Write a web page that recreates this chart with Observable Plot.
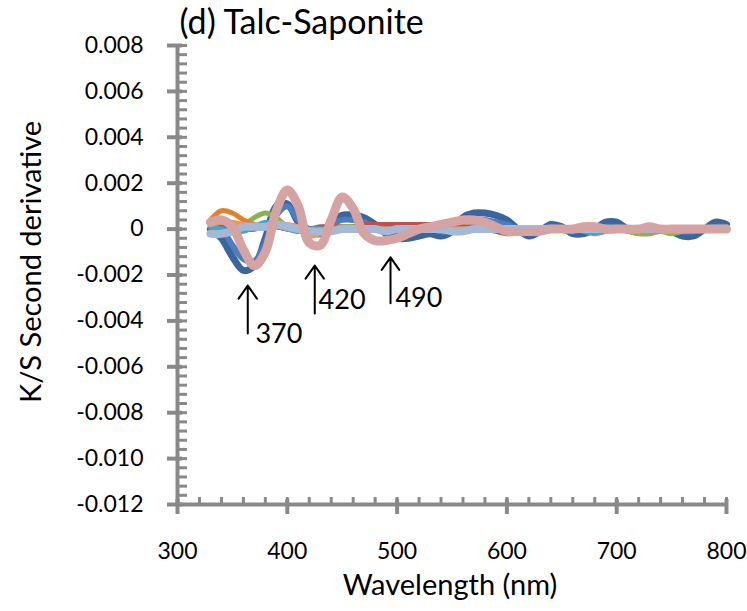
<!DOCTYPE html>
<html><head><meta charset="utf-8">
<script src="https://cdn.jsdelivr.net/npm/d3@7"></script>
<script src="https://cdn.jsdelivr.net/npm/@observablehq/plot@0.6"></script>
<style>body{margin:0;background:#fff} svg{display:block}</style>
</head><body><div id="chart"></div>
<script>
const wavelengths = [330,340,350,360,370,380,390,400,410,420,430,440,450,460,470,480,490,500,510,520,530,540,550,560,570,580,590,600,610,620,630,640,650,660,670,680,690,700,710,720,730,740,750,760,770,780,790,800];

const blueDark = [0.0000,-0.0004,-0.0012,-0.0018,-0.0016,-0.0004,0.0010,0.0011,0.0003,-0.0001,-0.0002,0.0002,0.0006,0.0006,0.0005,0.0002,-0.0002,-0.0004,-0.0004,-0.0003,-0.0002,-0.0003,-0.0001,0.0005,0.0007,0.0007,0.0006,0.0004,0.0000,-0.0003,-0.0001,0.0002,0.0001,-0.0002,-0.0002,0.0000,0.0003,0.0003,0.0000,-0.0001,0.0000,0.0000,-0.0001,-0.0003,-0.0003,0.0000,0.0003,0.0002];
const blueMid = [0.0002,0.0000,-0.0007,-0.0013,-0.0014,-0.0006,0.0006,0.0010,0.0004,0.0000,0.0000,0.0002,0.0004,0.0004,0.0003,0.0001,0.0000,-0.0001,-0.0001,0.0000,0.0000,-0.0001,0.0000,0.0003,0.0004,0.0004,0.0003,0.0002,0.0000,-0.0001,0.0000,0.0001,0.0000,-0.0001,0.0000,0.0000,0.0001,0.0001,0.0000,0.0000,0.0000,0.0000,0.0000,-0.0001,-0.0001,0.0000,0.0001,0.0001];
const red = [0.0001,0.0002,0.0001,0.0000,0.0000,0.0001,0.0001,0.0000,0.0000,0.0000,0.0001,0.0001,0.0001,0.0001,0.0002,0.0002,0.0002,0.0002,0.0002,0.0002,0.0002,0.0002,0.0002,0.0001,0.0001,0.0000,-0.0001,-0.0002,-0.0001,0.0000,0.0000,0.0000,0.0000,0.0000,0.0000,0.0000,0.0000,0.0000,0.0000,0.0000,0.0000,0.0000,0.0000,0.0000,0.0000,0.0000,0.0000,0.0000];
const green = [0.0002,0.0003,0.0002,0.0002,0.0005,0.0007,0.0005,0.0001,-0.0001,0.0000,0.0000,0.0000,0.0001,0.0001,0.0000,0.0000,0.0000,0.0000,0.0000,0.0000,0.0000,0.0000,0.0000,0.0000,0.0000,0.0000,0.0000,0.0000,0.0000,0.0000,0.0000,0.0000,0.0000,0.0000,0.0000,0.0000,0.0000,0.0000,-0.0001,-0.0002,-0.0002,-0.0001,-0.0002,-0.0001,0.0000,0.0000,0.0000,0.0000];
const purple = [0.0000,0.0001,0.0000,0.0000,0.0000,0.0001,0.0001,0.0000,0.0000,0.0000,0.0000,0.0000,0.0000,0.0000,0.0000,0.0000,0.0000,0.0000,0.0000,0.0000,0.0000,0.0000,0.0000,0.0000,0.0000,0.0000,0.0000,0.0000,0.0000,0.0000,0.0000,0.0000,0.0000,0.0000,0.0000,0.0000,0.0000,0.0000,0.0000,0.0000,0.0000,0.0000,0.0000,0.0000,0.0000,0.0000,0.0000,0.0000];
const aqua = [0.0001,0.0000,-0.0001,-0.0001,0.0001,0.0003,0.0002,0.0000,-0.0001,0.0000,0.0000,0.0000,0.0000,0.0000,0.0000,0.0000,0.0000,0.0000,0.0000,0.0000,0.0000,-0.0001,-0.0001,0.0000,0.0000,0.0000,0.0000,0.0000,-0.0001,-0.0001,0.0000,0.0000,0.0000,0.0000,-0.0001,-0.0002,-0.0001,0.0000,0.0000,0.0000,0.0000,0.0000,0.0000,0.0000,0.0000,0.0000,0.0000,0.0000];
const orangeDark = [0.0004,0.0008,0.0007,0.0004,0.0002,0.0001,0.0001,0.0001,0.0000,-0.0002,-0.0001,0.0000,0.0000,0.0000,0.0000,0.0000,0.0000,0.0000,0.0000,0.0000,0.0000,0.0000,0.0000,0.0000,0.0000,0.0000,0.0000,0.0000,0.0000,0.0000,0.0000,0.0000,0.0000,0.0000,0.0000,0.0000,0.0000,0.0000,0.0000,0.0000,0.0000,0.0000,0.0000,0.0000,0.0000,0.0000,0.0000,0.0000];
const orange = [0.0002,0.0003,0.0003,0.0002,0.0001,0.0001,0.0002,0.0002,0.0001,-0.0003,-0.0002,0.0000,0.0000,0.0000,0.0000,0.0000,0.0000,0.0000,0.0000,0.0000,0.0000,0.0000,0.0000,0.0000,0.0000,0.0000,0.0000,0.0000,0.0000,0.0000,0.0000,0.0000,0.0000,0.0000,0.0000,0.0000,0.0000,0.0000,0.0000,0.0000,0.0000,0.0000,0.0000,0.0000,0.0000,0.0000,0.0000,0.0000];
const lightBlue = [-0.0002,-0.0002,-0.0001,0.0001,0.0001,0.0001,0.0002,0.0001,0.0000,-0.0001,-0.0001,-0.0001,0.0000,0.0000,0.0000,0.0000,-0.0001,0.0000,0.0000,0.0000,0.0000,0.0000,-0.0001,-0.0001,0.0000,0.0000,0.0000,0.0000,0.0000,0.0000,0.0000,0.0000,0.0000,0.0000,0.0000,0.0000,0.0000,0.0000,0.0000,0.0000,0.0000,0.0000,0.0000,0.0000,0.0000,0.0000,0.0000,0.0000];
const pink = [0.0003,0.0004,0.0001,-0.0009,-0.0016,-0.0010,0.0008,0.0017,0.0010,-0.0006,-0.0007,0.0004,0.0014,0.0009,-0.0002,-0.0005,-0.0005,-0.0004,-0.0002,0.0000,0.0001,0.0002,0.0003,0.0004,0.0004,0.0003,0.0001,-0.0001,-0.0001,-0.0001,-0.0001,0.0000,0.0000,0.0000,0.0001,0.0001,0.0000,0.0000,0.0000,0.0000,0.0001,0.0000,0.0000,0.0000,0.0000,0.0000,0.0000,0.0000];

const seriesValues = [blueDark, blueMid, red, green, purple, aqua, orangeDark, orange, lightBlue, pink];
const seriesColors = ["#3A659E", "#4A7EBE", "#C0504D", "#8EB050", "#7F63A1", "#42A8C4", "#E0822C", "#F79646", "#A4B8D7", "#D5A3A2"];
const seriesWidths = [7, 6, 5, 5, 5, 5, 5, 5, 8, 9];

const xTicks = [300, 400, 500, 600, 700, 800];
const yTicks = [-0.012, -0.010, -0.008, -0.006, -0.004, -0.002, 0, 0.002, 0.004, 0.006, 0.008];
const xMinor = d3.range(300, 801, 20);
const yMinor = d3.range(0, 51).map(i => -0.012 + i * 0.0004);

const arrowX = [364, 425, 494];
const arrowYBottom = [-0.00455, -0.00368, -0.00323];
const arrowYTop = [-0.00246, -0.00159, -0.00123];
const peakLabels = ["370", "420", "490"];
const labelX = [371, 428.5, 498.5];
const labelY = [-0.00459, -0.00311, -0.00302];

const titleText = "(d) Talc-Saponite";
const xTitle = "Wavelength (nm)";
const yTitle = "K/S Second derivative";

const axisColor = "#898989";
const font = "Lato, 'Open Sans', sans-serif";

const lines = seriesValues.map((vals, s) =>
  Plot.line(wavelengths.map((w, i) => ({x: w, y: vals[i]})), {
    x: "x", y: "y", stroke: seriesColors[s], strokeWidth: seriesWidths[s],
    curve: "catmull-rom", strokeLinecap: "round", strokeLinejoin: "round"
  })
);

const arrows = arrowX.map((x, i) => ({x, y1: arrowYBottom[i], y2: arrowYTop[i]}));
const labels = peakLabels.map((t, i) => ({t, x: labelX[i], y: labelY[i]}));

const chart = Plot.plot({
  width: 747, height: 611,
  marginLeft: 177, marginRight: 21, marginTop: 45, marginBottom: 107,
  x: {domain: [300, 800]},
  y: {domain: [-0.012, 0.008]},
  style: {fontFamily: font, color: "#000", background: "#fff"},
  marks: [
    ...lines,
    Plot.ruleX([300], {y1: -0.012, y2: 0.008, stroke: axisColor, strokeWidth: 4}),
    Plot.ruleY([-0.012], {x1: 300, x2: 800, stroke: axisColor, strokeWidth: 4}),
    Plot.axisY(yMinor, {anchor: "left", tickSize: 10, dx: 10, stroke: axisColor, strokeWidth: 3, fill: "none", label: null}),
    Plot.axisY(yTicks, {anchor: "left", tickSize: 15, dx: 5, stroke: axisColor, strokeWidth: 4, fill: "none", label: null}),
    Plot.axisY(yTicks, {anchor: "left", tickSize: 0, tickPadding: 34, fontSize: 23, fill: "#000", label: null,
      tickFormat: d => d === 0 ? "0" : d.toFixed(3)}),
    Plot.axisX(xMinor, {anchor: "bottom", tickSize: 7, dy: -7, stroke: axisColor, strokeWidth: 3, fill: "none", label: null}),
    Plot.axisX(xTicks, {anchor: "bottom", tickSize: 15, dy: -5, stroke: axisColor, strokeWidth: 4, fill: "none", label: null}),
    Plot.axisX(xTicks, {anchor: "bottom", tickSize: 0, tickPadding: 38, fontSize: 23, fill: "#000", label: null}),
    Plot.arrow(arrows, {x1: "x", x2: "x", y1: "y1", y2: "y2", stroke: "#000", strokeWidth: 2, headLength: 14, headAngle: 70}),
    Plot.text(labels, {x: "x", y: "y", text: "t", textAnchor: "start", fontSize: 27, fill: "#000"}),
    Plot.text([titleText], {frameAnchor: "top-left", dx: 2, dy: -12, lineAnchor: "bottom", textAnchor: "start", fontSize: 34, fill: "#000"}),
    Plot.text([xTitle], {frameAnchor: "bottom", dx: -2, dy: 81, lineAnchor: "middle", textAnchor: "middle", fontSize: 29, fill: "#000"}),
    Plot.text([yTitle], {frameAnchor: "left", dx: -146, dy: -13, rotate: -90, lineAnchor: "middle", textAnchor: "middle", fontSize: 29, fill: "#000"})
  ]
});
document.getElementById("chart").appendChild(chart);
</script>
</body></html>
